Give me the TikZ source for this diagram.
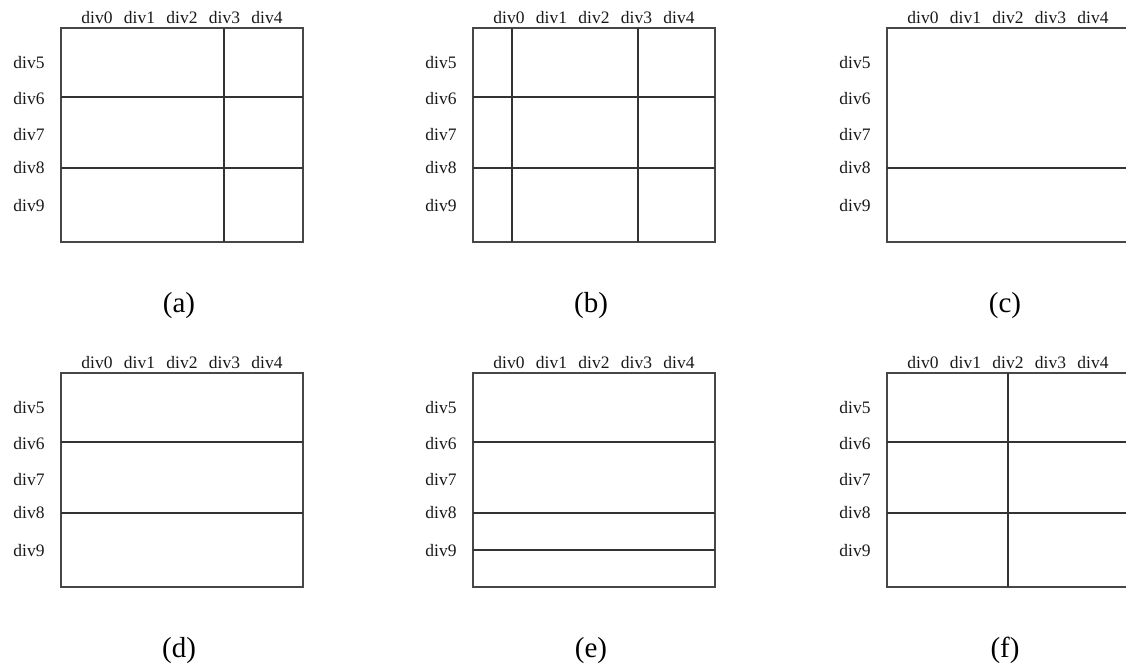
\documentclass[tikz,border=0pt]{standalone}
\usepackage{fontspec}
\setmainfont{Liberation Serif}
\newcommand\gridpanel[5]{%
  % #1 name, #2 x shift, #3 y shift, #4 caption, #5 extra lines
  \begin{scope}[shift={(#2,#3)}]
    \node[boxnode] (#1box) at (121,107) {};
    \foreach \i/\x in {0/36,1/78.5,2/121,3/163.5,4/206}
      \node[lab] (#1t\i) at (\x,-5) {div\i};
    \foreach \i/\y in {5/40.5,6/76,7/112.5,8/145,9/183}
      \node[lab] (#1l\i) at (-32,\y) {div\i};
    \node[captext] (#1cap) at (118,284) {(#4)};
    #5
  \end{scope}}
\begin{document}
\begin{tikzpicture}[x=1pt,y=-1pt,
  boxnode/.style={draw=black!72,line width=2pt,minimum width=242pt,minimum height=214pt,inner sep=0pt,outer sep=0pt},
  divline/.style={draw=black!80,line width=2pt},
  lab/.style={font=\fontsize{17.5}{20}\selectfont,anchor=base,inner sep=0pt,text=black!90},
  captext/.style={font=\fontsize{29}{34}\selectfont,anchor=base,inner sep=0pt}]
\clip (0,0) rectangle (1126,664);
\gridpanel{a}{61}{28}{a}{%
  \draw[divline] (0,69) -- (242,69);
  \draw[divline] (0,140) -- (242,140);
  \draw[divline] (163,0) -- (163,214);}
\gridpanel{b}{473}{28}{b}{%
  \draw[divline] (0,69) -- (242,69);
  \draw[divline] (0,140) -- (242,140);
  \draw[divline] (39,0) -- (39,214);
  \draw[divline] (165,0) -- (165,214);}
\gridpanel{c}{887}{28}{c}{%
  \draw[divline] (0,140) -- (242,140);}
\gridpanel{d}{61}{373}{d}{%
  \draw[divline] (0,69) -- (242,69);
  \draw[divline] (0,140) -- (242,140);}
\gridpanel{e}{473}{373}{e}{%
  \draw[divline] (0,69) -- (242,69);
  \draw[divline] (0,140) -- (242,140);
  \draw[divline] (0,177) -- (242,177);}
\gridpanel{f}{887}{373}{f}{%
  \draw[divline] (0,69) -- (242,69);
  \draw[divline] (0,140) -- (242,140);
  \draw[divline] (121,0) -- (121,214);}
\end{tikzpicture}
\end{document}
